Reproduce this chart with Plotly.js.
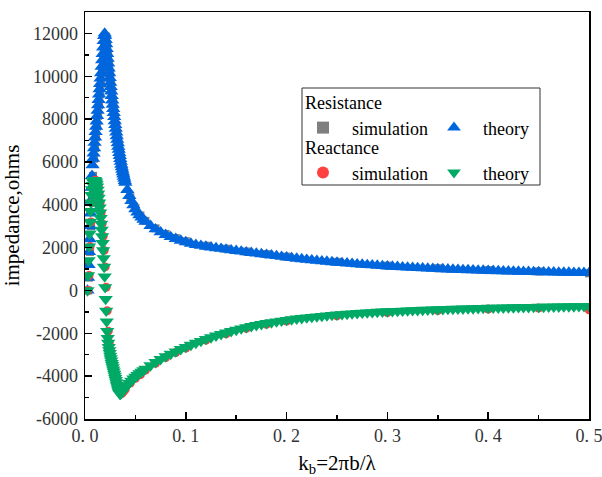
<!DOCTYPE html>
<html>
<head>
<meta charset="utf-8">
<script src="https://cdn.plot.ly/plotly-3.0.1.min.js"></script>
<style>html,body{margin:0;padding:0;background:#fff;}#chart{width:602px;height:477px;}</style>
</head>
<body>
<div id="chart"></div>
<script>
// ---- theory (dense) ----
const kTheory = [
0.0025,0.003,0.0035,0.004,0.0045,0.005,0.0055,0.006,0.0065,0.007,
0.0075,0.008,0.0085,0.009,0.0095,0.010,0.0105,0.011,0.0115,0.012,
0.0125,0.013,0.0135,0.014,0.0145,0.015,0.0155,0.016,0.0165,0.017,
0.0175,0.018,0.0185,0.019,0.0195,0.020,0.0205,0.021,0.0215,0.022,
0.0225,0.023,0.0235,0.024,0.0245,0.025,0.0255,0.026,0.0265,0.027,
0.0275,0.028,0.0285,0.029,0.0295,0.030,0.0305,0.031,0.0315,0.032,
0.0325,0.033,0.0335,0.034,0.0345,0.035,0.0355,0.036,0.0365,0.037,
0.0375,0.038,0.0385,0.039,0.0395,0.040,
0.042,0.044,0.046,0.048,0.050,0.052,0.054,0.056,0.058,0.060,
0.065,0.07,0.075,0.08,0.085,0.09,0.095,0.1,0.105,0.11,
0.115,0.12,0.125,0.13,0.135,0.14,0.145,0.15,0.155,0.16,
0.165,0.17,0.175,0.18,0.185,0.19,0.195,0.2,0.205,0.21,
0.215,0.22,0.225,0.23,0.235,0.24,0.245,0.25,0.255,0.26,
0.265,0.27,0.275,0.28,0.285,0.29,0.295,0.3,0.305,0.31,
0.315,0.32,0.325,0.33,0.335,0.34,0.345,0.35,0.355,0.36,
0.365,0.37,0.375,0.38,0.385,0.39,0.395,0.4,0.405,0.41,
0.415,0.42,0.425,0.43,0.435,0.44,0.445,0.45,0.455,0.46,
0.465,0.47,0.475,0.48,0.485,0.49,0.495,0.5
];
const resistanceTheory = [
0,600,1200,1800,2400,3000,3600,4200,4800,5350,
5850,6150,6400,6650,6900,7150,7400,7650,7900,8150,
8400,8650,8900,9150,9400,9650,9900,10150,10450,10750,
11050,11350,11650,11880,12000,11900,11700,11500,11280,11050,
10820,10600,10370,10150,9920,9700,9500,9300,9090,8880,
8680,8480,8290,8100,7910,7730,7550,7380,7210,7040,
6880,6720,6570,6420,6280,6140,6010,5880,5760,5640,
5530,5420,5320,5220,5120,5030,
4700,4420,4180,3980,3800,3650,3520,3410,3310,3220,
3020,2860,2720,2600,2500,2410,2330,2260,2190,2130,
2090,2050,2015,1980,1950,1915,1880,1850,1820,1790,
1760,1730,1700,1670,1640,1610,1580,1550,1520,1492,
1465,1440,1415,1392,1370,1348,1327,1306,1286,1267,
1248,1230,1212,1195,1178,1162,1146,1131,1116,1102,
1088,1075,1063,1051,1040,1029,1018,1008,998,988,
979,970,961,953,945,937,929,922,915,908,
901,895,889,883,877,871,866,861,856,851,
846,842,838,834,830,826,823,820
];
const reactanceTheory = [
0,700,1400,2050,2650,3200,3700,4100,4450,4720,
4920,5050,5120,5150,5150,5130,5090,5030,4950,4850,
4700,4520,4320,4100,3870,3630,3380,3110,2830,2530,
2210,1870,1500,1100,650,150,-400,-950,-1450,-1900,
-2230,-2450,-2640,-2800,-2930,-3050,-3170,-3280,-3390,-3490,
-3590,-3690,-3790,-3890,-3990,-4090,-4190,-4290,-4390,-4480,
-4570,-4650,-4720,-4780,-4820,-4830,-4810,-4780,-4750,-4720,
-4690,-4660,-4630,-4600,-4570,-4540,
-4430,-4320,-4220,-4120,-4030,-3950,-3870,-3800,-3730,-3660,
-3500,-3350,-3210,-3080,-2960,-2850,-2740,-2640,-2540,-2450,
-2360,-2270,-2190,-2110,-2040,-1970,-1900,-1840,-1780,-1720,
-1670,-1620,-1575,-1530,-1490,-1450,-1415,-1380,-1350,-1320,
-1292,-1265,-1240,-1216,-1193,-1171,-1150,-1130,-1111,-1093,
-1076,-1060,-1045,-1031,-1018,-1005,-993,-981,-970,-959,
-949,-939,-929,-920,-911,-902,-894,-886,-878,-870,
-863,-856,-849,-842,-836,-830,-824,-818,-812,-807,
-802,-797,-792,-787,-782,-778,-774,-770,-766,-762,
-758,-754,-751,-748,-745,-742,-739,-736
];
// ---- simulation ----
const kSim = [
0.003,0.004,0.005,0.006,0.007,0.008,0.009,0.010,0.011,0.012,
0.013,0.014,0.015,0.016,0.017,0.018,0.019,0.020,0.021,0.022,
0.023,0.024,0.025,0.026,0.027,0.028,0.029,0.030,0.031,0.032,
0.033,0.034,0.035,0.036,0.037,0.038,0.039,0.040,
0.045,0.05,0.055,0.06,0.07,0.08,0.09,0.1,0.12,0.14,0.16,0.18,0.2,0.25,0.3,0.35,0.4,0.45,0.5
];
const resistanceSim = [
0,600,1800,3000,4200,5350,6150,6650,7150,7650,
8150,8650,9150,9650,10150,10750,11350,11800,11850,11450,
11000,10550,10100,9650,9250,8850,8450,8080,7720,7370,
7040,6720,6420,6140,5880,5640,5420,5220,
4350,3850,3500,3250,2900,2640,2450,2300,2090,1950,1820,1700,1580,1340,1160,1040,950,890,800
];
const reactanceSim = [
0,700,2050,3200,4100,4720,5050,5150,5130,5030,
4850,4520,4100,3630,3110,2530,1870,1100,150,-950,
-1900,-2450,-2800,-3050,-3280,-3490,-3690,-3890,-4090,-4290,
-4480,-4650,-4780,-4830,-4780,-4720,-4660,-4600,
-4320,-4100,-3930,-3720,-3400,-3130,-2900,-2690,-2320,-2020,-1770,-1580,-1430,-1180,-1030,-935,-868,-820,-900
];
// ---- ticks ----
const xTickVals = [0, 0.1, 0.2, 0.3, 0.4, 0.5];
const xTickText = ['0. 0', '0. 1', '0. 2', '0. 3', '0. 4', '0. 5'];
const yTickVals = [-6000, -4000, -2000, 0, 2000, 4000, 6000, 8000, 10000, 12000];
const yTickText = ['-6000', '-4000', '-2000', '0', '2000', '4000', '6000', '8000', '10000', '12000'];

const serif = 'Liberation Serif, Times New Roman, serif';
const NB = '\u00A0\u00A0';

const traces = [
  {x: kSim, y: resistanceSim, type: 'scatter', mode: 'markers', name: NB + 'simulation', legend: 'legend',
   marker: {symbol: 'square', size: 8, color: '#7f7f7f'}},
  {x: kTheory, y: resistanceTheory, type: 'scatter', mode: 'markers', name: NB + 'theory', legend: 'legend',
   marker: {symbol: 'triangle-up', size: 12.5, color: '#0066DD'}},
  {x: kSim, y: reactanceSim, type: 'scatter', mode: 'markers', name: NB + 'simulation', legend: 'legend2',
   marker: {symbol: 'circle', size: 9, color: '#FF4040'}},
  {x: kTheory, y: reactanceTheory, type: 'scatter', mode: 'markers', name: NB + 'theory', legend: 'legend2',
   marker: {symbol: 'triangle-down', size: 12.5, color: '#00AA66'}}
];

function px2x(p) { return (p - 85) / (589 - 85); }
function px2y(p) { return (419 - p) / (419 - 12); }

const legendCommon = {
  orientation: 'h', xanchor: 'left', yanchor: 'top',
  font: {family: serif, size: 18, color: '#000'},
  entrywidth: 86, entrywidthmode: 'pixels', itemsizing: 'constant',
  bgcolor: 'rgba(0,0,0,0)', borderwidth: 0, traceorder: 'normal'
};

const layout = {
  width: 602, height: 477,
  margin: {l: 85, r: 13, t: 12, b: 58, pad: 0},
  paper_bgcolor: '#fff', plot_bgcolor: '#fff',
  showlegend: true,
  xaxis: {
    range: [0, 0.5], tickvals: xTickVals, ticktext: xTickText,
    ticks: 'inside', ticklen: 7, tickwidth: 1.5, tickcolor: '#000',
    minor: {dtick: 0.05, tick0: 0, ticks: 'inside', ticklen: 4, tickwidth: 1.5, tickcolor: '#000'},
    showline: true, linecolor: '#000', linewidth: 1.5, mirror: true,
    showgrid: false, zeroline: false, ticklabeloverflow: 'allow',
    tickfont: {family: serif, size: 18, color: '#333'},
    title: {text: 'k<sub>b</sub>=2πb/λ', font: {family: serif, size: 21, color: '#000'}, standoff: 12}
  },
  yaxis: {
    range: [-6000, 13000], tickvals: yTickVals, ticktext: yTickText,
    ticks: 'inside', ticklen: 7, tickwidth: 1.5, tickcolor: '#000',
    minor: {dtick: 1000, tick0: 0, ticks: 'inside', ticklen: 4, tickwidth: 1.5, tickcolor: '#000'},
    showline: true, linecolor: '#000', linewidth: 1.5, mirror: true,
    showgrid: false, zeroline: false, ticklabeloverflow: 'allow',
    tickfont: {family: serif, size: 18, color: '#333'},
    ticklabelstandoff: 2,
    title: {text: 'impedance,ohms', font: {family: serif, size: 21, color: '#000'}, standoff: 8}
  },
  legend: Object.assign({}, legendCommon, {
    x: px2x(303), y: px2y(86),
    title: {text: 'Resistance', side: 'top', font: {family: serif, size: 18, color: '#000'}}
  }),
  legend2: Object.assign({}, legendCommon, {
    x: px2x(303), y: px2y(131),
    title: {text: 'Reactance', side: 'top', font: {family: serif, size: 18, color: '#000'}}
  }),
  shapes: [{
    type: 'rect', xref: 'paper', yref: 'paper',
    x0: px2x(302), x1: px2x(540), y0: px2y(185), y1: px2y(88),
    line: {color: '#333', width: 1}, fillcolor: 'rgba(0,0,0,0)'
  }]
};

Plotly.newPlot('chart', traces, layout, {displayModeBar: false, staticPlot: true});
</script>
</body>
</html>
